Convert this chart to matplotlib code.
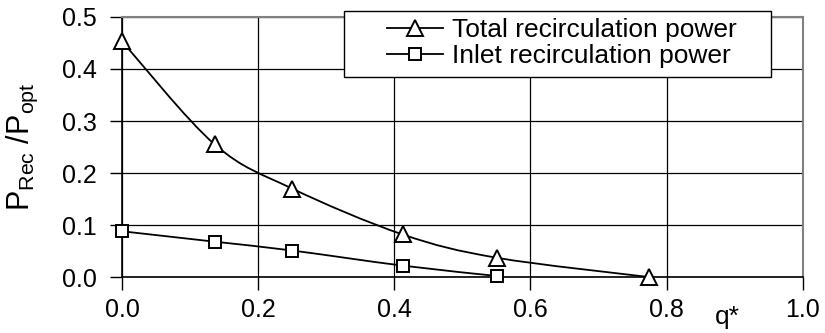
import numpy as np
import matplotlib
matplotlib.use("Agg")
import matplotlib.pyplot as plt
from matplotlib.path import Path
from matplotlib.patches import PathPatch, Rectangle
from matplotlib.lines import Line2D

plt.rcParams['font.family'] = ['Liberation Sans', 'DejaVu Sans']

q_total = [0.0, 0.136, 0.25, 0.412, 0.551, 0.774]
p_total = [0.453, 0.255, 0.170, 0.082, 0.037, 0.0]
q_inlet = [0.0, 0.136, 0.25, 0.412, 0.551]
p_inlet = [0.088, 0.068, 0.051, 0.022, 0.002]
labels = ['Total recirculation power', 'Inlet recirculation power']

xticks = [0.0, 0.2, 0.4, 0.6, 0.8, 1.0]
yticks = [0.0, 0.1, 0.2, 0.3, 0.4, 0.5]

W, H = 825, 333


def smooth_path(x, y, k=1/6):
    # Excel-like smoothed line as cubic Bezier segments through the points
    x = np.asarray(x, float)
    y = np.asarray(y, float)
    n = len(x)
    verts = [(x[0], y[0])]
    codes = [Path.MOVETO]
    for i in range(n - 1):
        i0 = max(i - 1, 0)
        i3 = min(i + 2, n - 1)
        c1 = (x[i] + (x[i + 1] - x[i0]) * k, y[i] + (y[i + 1] - y[i0]) * k)
        c2 = (x[i + 1] - (x[i3] - x[i]) * k, y[i + 1] - (y[i3] - y[i]) * k)
        verts += [c1, c2, (x[i + 1], y[i + 1])]
        codes += [Path.CURVE4] * 3
    return Path(verts, codes)


fig = plt.figure(figsize=(8.25, 3.33), dpi=100)
ax = fig.add_axes([0.148, 0.168, 0.825, 0.781])

for xs, ys in [(q_total, p_total), (q_inlet, p_inlet)]:
    ax.add_patch(PathPatch(smooth_path(xs, ys), facecolor='none',
                           edgecolor='black', lw=1.3, zorder=3, clip_on=False))

mstyles = [dict(marker='^', ms=11), dict(marker='s', ms=8.5)]
for (xs, ys), st in zip([(q_total, p_total), (q_inlet, p_inlet)], mstyles):
    ax.plot(xs, ys, ls='none', mfc='white', mec='black', mew=1.4,
            zorder=4, clip_on=False, **st)

ax.set_xlim(0, 1.0)
ax.set_ylim(0, 0.5)
ax.set_xticks(xticks)
ax.set_yticks(yticks)
ax.set_xticklabels([f'{v:.1f}' for v in xticks])
ax.set_yticklabels([f'{v:.1f}' for v in yticks])
ax.tick_params(labelsize=18, direction='out', length=9, width=1,
               colors='black')
ax.tick_params(axis='y', pad=9)
ax.tick_params(axis='x', pad=6)
ax.grid(True, color='black', lw=0.9)
ax.set_axisbelow(True)
for s in ['top', 'right']:
    ax.spines[s].set_color('#808080')
    ax.spines[s].set_linewidth(1.5)
for s in ['left', 'bottom']:
    ax.spines[s].set_linewidth(1.2)

ax.set_ylabel(r'P$_{\mathregular{Rec}}$ /P$_{\mathregular{opt}}$', fontsize=22)
ax.yaxis.set_label_coords(-0.12, 0.5)
ax.text(0.89, -0.155, 'q*', transform=ax.transAxes, fontsize=19,
        ha='center', va='center')

# legend box drawn by hand (wide left padding like the original)
fig.add_artist(Rectangle((344 / W, 1 - 77 / H), (771 - 344) / W, 66 / H,
                         transform=fig.transFigure, facecolor='white',
                         edgecolor='black', lw=1.0, zorder=10))
for row, (lab, st) in enumerate(zip(labels, mstyles)):
    yc = 1 - (28 + 26 * row) / H
    fig.add_artist(Line2D([387 / W, 443 / W], [yc, yc], transform=fig.transFigure,
                          color='black', lw=1.3, zorder=11))
    fig.add_artist(Line2D([415 / W], [yc], transform=fig.transFigure, ls='none',
                          mfc='white', mec='black', mew=1.4, zorder=12, **st))
    fig.text(452 / W, yc, lab, fontsize=19, ha='left', va='center_baseline',
             zorder=12)

fig.savefig('out.png', dpi=100)
